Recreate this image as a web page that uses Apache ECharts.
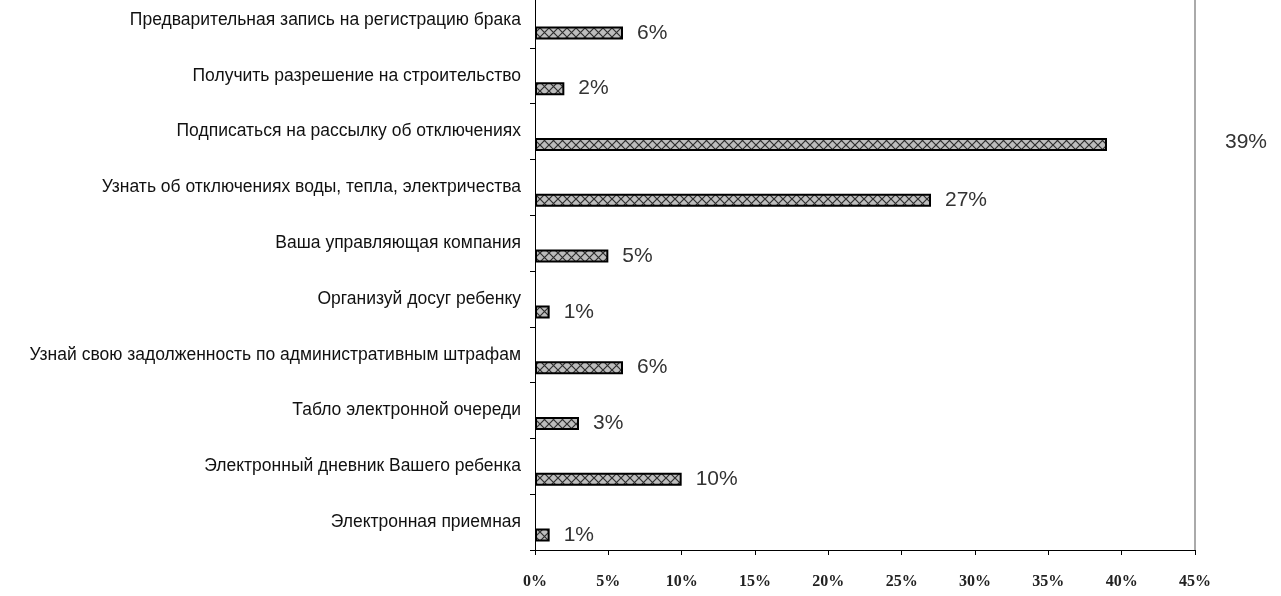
<!DOCTYPE html>
<html><head><meta charset="utf-8">
<script src="https://cdn.jsdelivr.net/npm/echarts@6/dist/echarts.min.js"></script>
<style>html,body{margin:0;padding:0;background:#fff;overflow:hidden}#c{position:absolute;left:0;top:-8px;width:1281px;height:604px}</style>
</head><body><div id="c"></div>
<script>
const categories = [
  'Предварительная запись на регистрацию брака',
  'Получить разрешение на строительство',
  'Подписаться на рассылку об отключениях',
  'Узнать об отключениях воды, тепла, электричества',
  'Ваша управляющая компания',
  'Организуй досуг ребенку',
  'Узнай свою задолженность по административным штрафам',
  'Табло электронной очереди',
  'Электронный дневник Вашего ребенка',
  'Электронная приемная'
];
const values = [6, 2, 39, 27, 5, 1, 6, 3, 10, 1];
const xTicks = [0, 5, 10, 15, 20, 25, 30, 35, 40, 45];

// crosshatch pattern
const pc = document.createElement('canvas');
pc.width = 9; pc.height = 9;
const g = pc.getContext('2d');
g.fillStyle = '#bdbdbd'; g.fillRect(0,0,9,9);
g.strokeStyle = '#2e2e2e'; g.lineWidth = 1.2;
g.beginPath(); g.moveTo(0,0); g.lineTo(9,9); g.moveTo(9,0); g.lineTo(0,9); g.stroke();

const chart = echarts.init(document.getElementById('c'), null, {renderer:'canvas'});
chart.setOption({
  animation: false,
  grid: {left: 535, right: 86, top: 0, bottom: 46, containLabel: false},
  xAxis: {
    type: 'value', min: xTicks[0], max: xTicks[xTicks.length-1], interval: 5,
    axisLine: {show: true, lineStyle: {color: '#000', width: 1}},
    axisTick: {show: true, length: 5, lineStyle: {color: '#000'}},
    splitLine: {show: false},
    axisLabel: {margin: 24, formatter: '{value}%', fontFamily: 'Liberation Serif', fontWeight: 'bold', fontSize: 16, color: '#222'}
  },
  yAxis: [{
    type: 'category', data: categories, inverse: true,
    axisLine: {show: true, lineStyle: {color: '#000', width: 1}},
    axisTick: {show: true, length: 5, lineStyle: {color: '#000'}},
    axisLabel: {margin: 14, fontFamily: 'Liberation Sans', fontSize: 17.5, color: '#111'}
  }, {
    type: 'category', data: categories, inverse: true, position: 'right',
    axisLine: {show: true, lineStyle: {color: '#aaa', width: 2}},
    axisTick: {show: false}, axisLabel: {show: false}
  }],
  series: [{
    type: 'bar', data: values.map(() => 0), barWidth: 13, barGap: '100%',
    itemStyle: {color: 'transparent'}, silent: true
  }, {
    type: 'bar', barWidth: 13,
    data: values.map((v, i) => v === 39
      ? {value: v, label: {offset: [104, -2]}}
      : v),
    itemStyle: {color: {image: pc, repeat: 'repeat'}, borderColor: '#000', borderWidth: 2},
    label: {show: true, position: 'right', distance: 14, formatter: '{c}%', fontFamily: 'Liberation Sans', fontSize: 21, color: '#333'}
  }]
});
</script></body></html>
